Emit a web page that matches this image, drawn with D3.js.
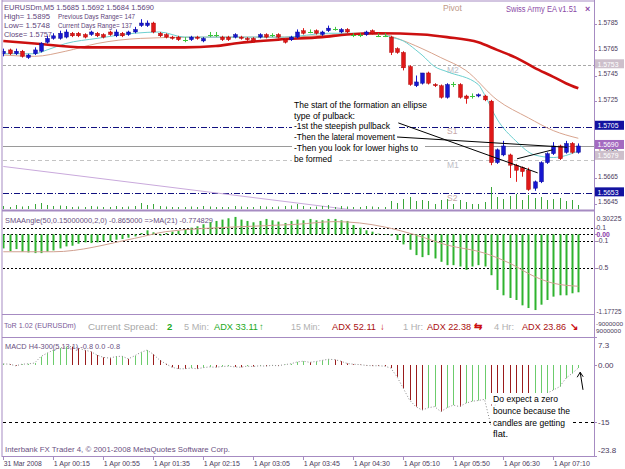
<!DOCTYPE html>
<html><head><meta charset="utf-8">
<script src="https://cdn.jsdelivr.net/npm/d3@7/dist/d3.min.js"></script>
<style>body{margin:0;background:#fff;overflow:hidden}svg{display:block;font-family:"Liberation Sans",Arial,sans-serif}</style>
</head><body><svg id="c" width="625" height="469"></svg>
<script>
// ---------------- DATA ----------------
const timeLabels = ["31 Mar 2008","1 Apr 00:15","1 Apr 00:55","1 Apr 01:35","1 Apr 02:15","1 Apr 03:05","1 Apr 03:45","1 Apr 04:30","1 Apr 05:10","1 Apr 05:50","1 Apr 06:30","1 Apr 07:10"];
const timeLabelBars = [0,8,16,24,32,40,48,56,64,72,80,88];

const open = [1.5762,1.5765,1.5762,1.5764,1.5759,1.5762,1.5764,1.5771,1.5774,1.5774,
1.5775,1.5778,1.5778,1.5777,1.5777,1.5778,1.5777,1.5779,1.5776,1.5778,
1.5777,1.5779,1.5784,1.5784,1.5786,1.5778,1.5777,1.5775,1.5775,1.5773,
1.5773,1.5775,1.5772,1.5777,1.5777,1.5775,1.5775,1.5775,1.5775,1.5774,
1.5774,1.5775,1.5777,1.5777,1.5777,1.5773,1.5773,1.5775,1.5780,1.5779,
1.5780,1.5777,1.5780,1.5781,1.5779,1.5781,1.5777,1.5777,1.5777,1.5780,
1.5776,1.5776,1.5775,1.5766,1.5763,1.5752,1.5737,1.5739,1.5747,1.5738,
1.5737,1.5728,1.5738,1.5738,1.5729,1.5729,1.5729,1.5729,1.5725,1.5677,
1.5683,1.5683,1.5675,1.5673,1.5671,1.5657,1.5662,1.5677,1.5684,1.5690,
1.5685,1.5692,1.5685];
const high = [1.5766,1.5766,1.5766,1.5765,1.5762,1.5767,1.5771,1.5776,1.5778,1.5780,
1.5781,1.5779,1.5779,1.5778,1.5780,1.5779,1.5778,1.5780,1.5781,1.5779,
1.5780,1.5783,1.5789,1.5788,1.5787,1.5779,1.5778,1.5776,1.5776,1.5775,
1.5776,1.5776,1.5775,1.5779,1.5779,1.5776,1.5776,1.5778,1.5776,1.5775,
1.5775,1.5778,1.5778,1.5778,1.5778,1.5774,1.5776,1.5781,1.5782,1.5781,
1.5781,1.5780,1.5784,1.5783,1.5782,1.5782,1.5778,1.5778,1.5780,1.5781,
1.5778,1.5778,1.5776,1.5767,1.5764,1.5753,1.5745,1.5747,1.5748,1.5739,
1.5738,1.5739,1.5740,1.5739,1.5730,1.5731,1.5731,1.5730,1.5726,1.5688,
1.5694,1.5684,1.5676,1.5674,1.5673,1.5663,1.5678,1.5685,1.5693,1.5691,
1.5694,1.5693,1.5692];
const low = [1.5760,1.5761,1.5761,1.5759,1.5758,1.5761,1.5763,1.5770,1.5773,1.5773,
1.5774,1.5775,1.5775,1.5774,1.5776,1.5775,1.5774,1.5776,1.5775,1.5775,
1.5776,1.5778,1.5783,1.5783,1.5778,1.5775,1.5774,1.5773,1.5772,1.5771,
1.5772,1.5773,1.5771,1.5775,1.5775,1.5772,1.5772,1.5774,1.5773,1.5772,
1.5771,1.5774,1.5774,1.5775,1.5774,1.5770,1.5772,1.5774,1.5777,1.5778,
1.5777,1.5776,1.5779,1.5780,1.5778,1.5778,1.5775,1.5775,1.5776,1.5777,
1.5775,1.5775,1.5761,1.5762,1.5749,1.5737,1.5736,1.5738,1.5738,1.5736,
1.5727,1.5727,1.5736,1.5727,1.5723,1.5727,1.5728,1.5725,1.5675,1.5676,
1.5682,1.5665,1.5662,1.5666,1.5655,1.5655,1.5661,1.5676,1.5683,1.5679,
1.5684,1.5684,1.5684];
const close = [1.5764,1.5762,1.5764,1.5760,1.5761,1.5765,1.5770,1.5774,1.5776,1.5778,
1.5779,1.5776,1.5776,1.5775,1.5779,1.5776,1.5775,1.5777,1.5779,1.5776,
1.5779,1.5781,1.5786,1.5786,1.5779,1.5776,1.5775,1.5774,1.5773,1.5773,
1.5775,1.5774,1.5774,1.5777,1.5777,1.5773,1.5773,1.5777,1.5774,1.5773,
1.5772,1.5777,1.5775,1.5777,1.5775,1.5771,1.5775,1.5779,1.5778,1.5779,
1.5778,1.5779,1.5782,1.5781,1.5781,1.5779,1.5777,1.5777,1.5779,1.5778,
1.5776,1.5776,1.5763,1.5763,1.5751,1.5738,1.5740,1.5747,1.5739,1.5737,
1.5728,1.5738,1.5738,1.5728,1.5727,1.5729,1.5730,1.5726,1.5677,1.5687,
1.5690,1.5675,1.5671,1.5670,1.5656,1.5662,1.5677,1.5684,1.5690,1.5680,
1.5692,1.5685,1.5690];
const volume = [30,20,40,25,30,50,60,40,30,35,30,20,25,20,30,25,20,20,30,20,
25,30,60,40,50,30,25,20,20,20,25,20,30,25,20,20,20,30,25,20,
20,30,25,20,25,30,35,50,30,20,25,30,40,20,30,25,20,20,30,25,
20,20,80,60,100,120,80,90,80,50,90,100,50,90,70,50,50,70,220,120,
100,130,150,90,140,110,120,90,100,110,80,90,40];

// moving averages: [bar, price]
const maSlow = [[0,1.5772],[5,1.5770],[13,1.5767],[29,1.5767],[34,1.5768],[37,1.5770],[44,1.5773],[51,1.5775],[55,1.5777],[60,1.5778],[67,1.5777],[71,1.5775],[76,1.5771],[79,1.5765],[82,1.5759],[85,1.5751],[88,1.5744],[90,1.5739],[92,1.5735]];
const maMid = [[0,1.5761],[5,1.5760],[10,1.5764],[15,1.5770],[22,1.5774],[31,1.5775],[45,1.5775],[55,1.5777],[61,1.5777],[63,1.5774],[67,1.5766],[70,1.5759],[74,1.5749],[79,1.5726],[84,1.5712],[88,1.5702],[92,1.5696]];
const maFast = [[0,1.5762],[5,1.5762],[7,1.5765],[10,1.5770],[15,1.5774],[21,1.5778],[25,1.5779],[29,1.5775],[35,1.5775],[45,1.5775],[52,1.5778],[60,1.5778],[62,1.5775],[64,1.5772],[66,1.5765],[67,1.5761],[69,1.5752],[71,1.5748],[76,1.5738],[77,1.5730],[79,1.5711],[82,1.5694],[85,1.5683],[88,1.5681],[92,1.5686]];
const maLong = [[0,1.5674],[56,1.5640]];

const priceTicks = [1.5785,1.5765,1.5745,1.5725,1.5705,1.5685,1.5665,1.5645];
const levelPrices = [1.5753,1.5705,1.5690,1.5679,1.5653];
const levelNames = ["M2","S1","","M1","S2"];

// annotation trend lines [bar1, price1, bar2, price2]
const annotLines = [[63.2,1.5708,85.5,1.5669],[63.0,1.5697,90.2,1.5689],[82.2,1.5680,87.9,1.5687]];
// MACD arrow [barTail, valueTail, barHead, valueHead]
const macdArrow = [92.75,-6.5,92.3,-1.9];

const smaAngle = [-0.21,-0.25,-0.22,-0.26,-0.27,-0.28,-0.28,-0.26,-0.24,-0.21,-0.18,-0.17,-0.14,-0.12,-0.13,-0.12,-0.10,-0.10,-0.08,-0.07,-0.05,-0.03,
0.02,0.06,0.03,-0.02,0.02,0.04,0.05,
0.08,0.10,0.12,0.15,0.18,0.20,0.22,0.24,0.26,0.22,0.20,0.18,0.20,0.23,0.21,0.19,0.17,0.20,0.22,
0.21,0.23,0.21,0.21,0.23,0.23,0.21,0.20,0.14,0.10,0.06,0.04,0.01,0.00,-0.02,
-0.085,-0.15,-0.23,-0.31,-0.34,-0.31,-0.36,-0.41,-0.46,-0.46,-0.48,-0.53,-0.48,-0.46,-0.48,-0.61,-0.83,-0.91,-0.95,-0.98,-1.06,-1.10,-1.13,-1.05,-0.98,-0.93,-0.91,-0.91,-0.88,-0.865];
const smaAngleMA = [[0,-0.26],[8,-0.26],[21,-0.06],[26,0.04],[37,0.11],[47,0.15],[53,0.19],[57,0.17],[61,0.11],[66,-0.01],[71,-0.16],[77,-0.28],[81,-0.43],[85,-0.63],[88,-0.73],[92,-0.775]];
const smaTicks = [0.30225,0.1,0,-0.1,-0.5,-1.17725];
const smaLevels = [0.1,0,-0.1,-0.5];

const macd = [0.3,0.2,-0.2,0.2,0.3,0.5,
2.2,3.1,3.9,4.4,4.8,4.8,4.4,3.9,3.5,2.6,2.0,1.8,2.2,2.3,1.6,2.4,3.3,3.9,2.8,1.3,0.3,
-0.6,-1.0,-1.0,-0.8,-1.0,-0.7,-0.5,-0.6,-0.4,-0.3,-0.5,-0.6,-0.3,-0.4,-0.2,-0.3,-0.1,-0.2,
0.1,0.3,0.8,1.0,0.7,0.9,1.2,1.5,1.4,1.0,0.4,0.2,0.1,-0.1,-0.2,-0.2,-0.3,-0.8,
-3.1,-6.1,-9.2,-10.9,-11.8,-11.2,-10.9,-12.2,-11.2,-10.5,-10.9,-10.0,-9.5,-9.3,-9.0,-15.7,
-8.3,-8.5,-8.6,-8.7,-8.8,-8.9,-8.3,-7.85,-7.4,-6.55,-5.7,-3.5,-2.2,-0.8];
const macdUp = [1,0,0,1,1,1,1,1,1,1,1,0,0,0,0,0,0,0,1,1,0,1,1,1,0,0,0,0,0,0,
1,0,1,1,0,1,1,0,0,1,0,1,0,1,0,1,1,1,1,0,1,1,1,0,0,0,0,0,0,0,
0,0,0,0,0,0,0,0,1,1,0,1,1,0,1,1,1,1,0,0,0,0,0,0,0,1,1,1,1,1,1,1,1];
const macdTicks = [7.3,0,-15,-23.8];

// ---------------- CHART ----------------
const svg = d3.select("#c");
const frame = "#a68bc2", axisText = "#4a3a5c", titleCol = "#5e437a";
const x = d3.scaleLinear().domain([0,92]).range([3.3,578.3]);
const yP = d3.scaleLinear().domain([1.5645,1.5785]).range([203.6,24.3]);
const yA = d3.scaleLinear().domain([-1.17725,0.30225]).range([313.2,214.1]);
const yM = d3.scaleLinear().domain([-23.8,7.3]).range([455.9,337.1]);
const yV = d3.scaleLinear().domain([0,220]).range([0,22]);
const bars = d3.range(open.length);

function T(p, xx, yy, s, o={}) {
  const t = p.append("text").attr("x",xx).attr("y",yy).text(s)
    .attr("font-size", o.size||8).attr("fill", o.fill||axisText);
  if (o.w) t.attr("textLength",o.w).attr("lengthAdjust","spacingAndGlyphs");
  if (o.anchor) t.attr("text-anchor",o.anchor);
  if (o.weight) t.attr("font-weight",o.weight);
  return t;
}
const defs = svg.append("defs");
function clip(id,y0,y1){ defs.append("clipPath").attr("id",id).append("rect").attr("x",2.5).attr("y",y0).attr("width",591.5).attr("height",y1-y0); return "url(#"+id+")"; }

// ---- main panel
const gm = svg.append("g").attr("clip-path", clip("cm",1.5,209.5));
// header
T(gm,4,10,`EURUSDm,M5  ${open[92].toFixed(4)} ${high[92].toFixed(4)} ${low[92].toFixed(4)} ${close[92].toFixed(4)}`,{fill:titleCol,w:150});
T(gm,4,19,"High= 1.5895",{fill:titleCol,w:46});
T(gm,58,19,"Previous Days Range= 147",{fill:titleCol,w:77});
T(gm,4,28,"Low= 1.5748",{fill:titleCol,w:46});
T(gm,58,28,"Current Days Range= 137",{fill:titleCol,w:74});
T(gm,4,37,"Close= 1.5757",{fill:titleCol,w:48});
T(gm,443,10.5,"Pivot",{fill:"#c09a88",size:8.5,w:19});
T(gm,506,12,"Swiss Army EA v1.51",{fill:"#8a4aa6",size:8.5,w:71});
T(gm,585,12,"×",{fill:"#8a4aa6",size:9,weight:"bold"});

// level lines
const lvlStroke = ["#a8a8a8","#101080","#9a9a9a","#c4c4c4","#101080"];
const lvlDash = ["3,2","6,2,1,2",null,"4,3","6,2,1,2"];
levelPrices.forEach((p,k)=>{
  const l = gm.append("line").attr("x1",3).attr("x2",594).attr("y1",Math.round(yP(p))+0.5).attr("y2",Math.round(yP(p))+0.5)
    .attr("stroke",lvlStroke[k]).attr("stroke-width",1);
  if (lvlDash[k]) l.attr("stroke-dasharray",lvlDash[k]);
  if (levelNames[k]) T(gm,447,yP(p)+7.5,levelNames[k],{fill: levelNames[k][0]==="S"?"#c6a8a8":"#bdbdc6",size:8.5});
});

// moving averages
const lineP = d3.line().x(d=>x(d[0])).y(d=>yP(d[1])).curve(d3.curveMonotoneX);
gm.append("path").attr("d",lineP(maLong)).attr("fill","none").attr("stroke","#c9a9dc").attr("stroke-width",1);
gm.append("path").attr("d",lineP(maMid)).attr("fill","none").attr("stroke","#d8a48e").attr("stroke-width",1);
gm.append("path").attr("d",lineP(maFast)).attr("fill","none").attr("stroke","#6ccfcf").attr("stroke-width",1);
gm.append("path").attr("d",lineP(maSlow)).attr("fill","none").attr("stroke","#cc1010").attr("stroke-width",2.6);

// volume
gm.selectAll("line.vol").data(bars).join("line").attr("class","vol")
  .attr("x1",i=>Math.round(x(i))+0.5).attr("x2",i=>Math.round(x(i))+0.5)
  .attr("y1",209).attr("y2",i=>209-yV(volume[i])).attr("stroke","#3aa63a").attr("stroke-width",1);

// annotation text (with its own white background, as in the terminal)
const note = ["The start of the formation an ellipse"," type of pulback:","-1st the steepish pullback","-Then the lateral movement","-Then you look for lower highs to","be formed"];
const noteW = [133,61,96,101,124,38];
const noteY = [108,119,129,140,151,162];
note.forEach((s,k)=>{
  gm.append("rect").attr("x",292).attr("y",noteY[k]-8.5).attr("width",noteW[k]+9).attr("height",11).attr("fill","#fff");
});

// candles
const cCol = i => close[i]>open[i] ? "#1616d0" : (close[i]<open[i] ? "#e01818" : "#3cc43c");
gm.selectAll("line.wick").data(bars).join("line").attr("class","wick")
  .attr("x1",i=>Math.round(x(i))+0.5).attr("x2",i=>Math.round(x(i))+0.5)
  .attr("y1",i=>yP(high[i])).attr("y2",i=>yP(low[i])).attr("stroke",cCol);
gm.selectAll("rect.body").data(bars.filter(i=>close[i]!==open[i])).join("rect").attr("class","body")
  .attr("x",i=>Math.round(x(i))-1.5).attr("width",4)
  .attr("y",i=>yP(Math.max(open[i],close[i]))).attr("height",i=>Math.max(1,Math.abs(yP(open[i])-yP(close[i]))))
  .attr("fill",cCol).attr("stroke",i=>close[i]>open[i]?"#0a0a80":"#a00000").attr("stroke-width",0.4);
gm.selectAll("line.doji").data(bars.filter(i=>close[i]===open[i])).join("line").attr("class","doji")
  .attr("x1",i=>Math.round(x(i))-2).attr("x2",i=>Math.round(x(i))+3)
  .attr("y1",i=>Math.round(yP(open[i]))+0.5).attr("y2",i=>Math.round(yP(open[i]))+0.5).attr("stroke","#3cc43c");

annotLines.forEach(a=>{
  gm.append("line").attr("x1",x(a[0])).attr("y1",yP(a[1])).attr("x2",x(a[2])).attr("y2",yP(a[3])).attr("stroke","#000").attr("stroke-width",1);
});
note.forEach((s,k)=>T(gm,294,noteY[k],s,{fill:"#000",size:9,w:noteW[k]}));

// ---- SMAAngle panel
const ga = svg.append("g").attr("clip-path", clip("ca",212,314));
T(ga,5,223,"SMAAngle(50,0.15000000,2,0) -0.865000   =>MA(21) -0.774829",{fill:"#6a5082",w:208});
smaLevels.forEach(v=>{
  ga.append("line").attr("x1",3).attr("x2",594).attr("y1",Math.round(yA(v))+0.5).attr("y2",Math.round(yA(v))+0.5)
    .attr("stroke","#000").attr("stroke-dasharray","2,2");
});
ga.selectAll("rect.sa").data(bars).join("rect").attr("class","sa")
  .attr("x",i=>Math.round(x(i))-0.5).attr("width",2)
  .attr("y",i=>yA(Math.max(0,smaAngle[i]))).attr("height",i=>Math.max(0.6,Math.abs(yA(smaAngle[i])-yA(0))))
  .attr("fill","#2fb32f");
ga.append("path").attr("d",d3.line().x(d=>x(d[0])).y(d=>yA(d[1])).curve(d3.curveMonotoneX)(smaAngleMA))
  .attr("fill","none").attr("stroke","#d0a090").attr("stroke-width",1);

// ---- ToR bar
const gt = svg.append("g");
T(gt,4,328,"ToR 1.02 (EURUSDm)",{fill:"#7a5a98",size:6.5,w:72});
const torTxt = [["Current Spread:",88,"#a8a8a8",70],["2",167,"#22aa22",0],["5 Min:",184,"#b0b0b0",25],["ADX 33.11",214,"#22a822",44],["↑",259,"#22a822",0],
  ["15 Min:",291,"#b0b0b0",29],["ADX 52.11",332,"#aa1010",44],["↓",380,"#cc1010",0],["1 Hr:",403,"#b0b0b0",20],["ADX 22.38",427,"#aa1010",44],["⇆",474,"#cc1010",0],
  ["4 Hr:",494,"#b0b0b0",20],["ADX 23.86",522,"#aa1010",44],["↘",570,"#cc1010",0]];
torTxt.forEach(d=>T(gt,d[1],330,d[0],{fill:d[2],size:9.5,w:d[3]||null,weight:(d[0].length===1?"bold":null)}));
T(gt,596,326,"-9000000",{size:6,w:27});
T(gt,596,333,"9000000",{size:6,w:25});

// ---- MACD panel
const gd = svg.append("g").attr("clip-path", clip("cd",338,456));
T(gd,5,348.5,"MACD H4-300(5,13,1) -0.8 0.0 -0.8",{fill:"#6a5082",w:115});
gd.append("line").attr("x1",3).attr("x2",594).attr("y1",Math.round(yM(-15))+0.5).attr("y2",Math.round(yM(-15))+0.5)
  .attr("stroke","#000").attr("stroke-dasharray","3,3");
gd.selectAll("line.mb").data(bars).join("line").attr("class","mb")
  .attr("x1",i=>Math.round(x(i))+0.5).attr("x2",i=>Math.round(x(i))+0.5)
  .attr("y1",yM(0)).attr("y2",i=>yM(macd[i]))
  .attr("stroke",i=>macdUp[i]?"#6ccc6c":"#9a1c1c").attr("stroke-width",1);
gd.append("path").attr("d",d3.line().x((d,i)=>x(i)).y(d=>yM(d))(macd))
  .attr("fill","none").attr("stroke","#8a8a8a").attr("stroke-dasharray","1,2");
const macdNote = ["Do expect a zero","bounce because the","candles are getting","flat."];
const macdNoteW = [65,77,72,15];
const macdNoteY = [401.5,414,425.5,436.5];
macdNote.forEach((s,k)=>{
  gd.append("rect").attr("x",491).attr("y",macdNoteY[k]-8.5).attr("width",macdNoteW[k]+10).attr("height",11.5).attr("fill","#fff");
});
macdNote.forEach((s,k)=>T(gd,493,macdNoteY[k],s,{fill:"#000",size:9,w:macdNoteW[k]}));
// arrow
const ax1 = x(macdArrow[0]), ay1 = yM(macdArrow[1]), ax2 = x(macdArrow[2]), ay2 = yM(macdArrow[3]);
gd.append("line").attr("x1",ax1).attr("y1",ay1).attr("x2",ax2).attr("y2",ay2).attr("stroke","#000");
gd.append("path").attr("d",`M${ax2-3},${ay2+5} L${ax2},${ay2} L${ax2+3},${ay2+4.5}`).attr("stroke","#000").attr("fill","none");
T(gd,5,452,"Interbank FX Trader 4, © 2001-2008 MetaQuotes Software Corp.",{fill:"#6a5082",w:225});

// ---- frames
const fr = svg.append("g").attr("stroke",frame).attr("fill","none");
fr.append("line").attr("x1",2).attr("x2",594).attr("y1",1).attr("y2",1);
fr.append("line").attr("x1",2).attr("x2",2).attr("y1",0).attr("y2",457);
fr.append("line").attr("x1",594.5).attr("x2",594.5).attr("y1",0).attr("y2",457);
fr.append("line").attr("x1",2).attr("x2",594.5).attr("y1",210.5).attr("y2",210.5).attr("stroke-width",2);
fr.append("line").attr("x1",2).attr("x2",594.5).attr("y1",314.5).attr("y2",314.5);
fr.append("line").attr("x1",2).attr("x2",594.5).attr("y1",337.5).attr("y2",337.5);
fr.append("line").attr("x1",2).attr("x2",594.5).attr("y1",456.5).attr("y2",456.5);

// ---- right axes
const ra = svg.append("g");
priceTicks.forEach(p=>{
  ra.append("line").attr("x1",594).attr("x2",597).attr("y1",Math.round(yP(p))+0.5).attr("y2",Math.round(yP(p))+0.5).attr("stroke",frame);
  T(ra,598,yP(p)+0.8,p.toFixed(4),{w:20});
});
const boxFill = ["#cdbfcb","#1212a0","#a46ac0","#cdbfcb","#1212a0"];
levelPrices.forEach((p,k)=>{
  const cy = yP(p) - (p===1.5679 ? 4.7 : 1.5);
  ra.append("rect").attr("x",595).attr("y",cy-4.5).attr("width",29).attr("height",9).attr("fill",boxFill[k]);
  T(ra,597.5,cy+3,p.toFixed(4),{fill:"#fff",w:21});
});
smaTicks.forEach(v=>{
  let cy = yA(v); if (v===0.30225) cy = 218.3; if (v===-1.17725) cy = 311.5;
  if (smaLevels.includes(v)) ra.append("line").attr("x1",594).attr("x2",597).attr("y1",Math.round(yA(v))+0.5).attr("y2",Math.round(yA(v))+0.5).attr("stroke",frame);
  const s = v===0 ? "0.00" : String(v);
  const w = s.length>5 ? 25 : null;
  T(ra,596.5,cy+2.4,s,{fill: v===0?"#8a3aa8":axisText, weight: v===0?"bold":null, w:w, size:(s.length>5?7:6.8)});
});
macdTicks.forEach(v=>{
  let cy = yM(v); if (v===7.3) cy = 345; if (v===-23.8) cy = 450.5;
  ra.append("line").attr("x1",594).attr("x2",597).attr("y1",Math.round(yM(v))+0.5).attr("y2",Math.round(yM(v))+0.5).attr("stroke",frame);
  T(ra,598,cy+2.8,v===0?"0.00":String(v));
});

// ---- time axis
timeLabelBars.forEach((b,k)=>{
  ra.append("line").attr("x1",Math.round(x(b))+0.5).attr("x2",Math.round(x(b))+0.5).attr("y1",456).attr("y2",460).attr("stroke",frame);
  T(ra,x(b)+0.5,466,timeLabels[k],{w: k===0?38:36});
});
</script></body></html>
